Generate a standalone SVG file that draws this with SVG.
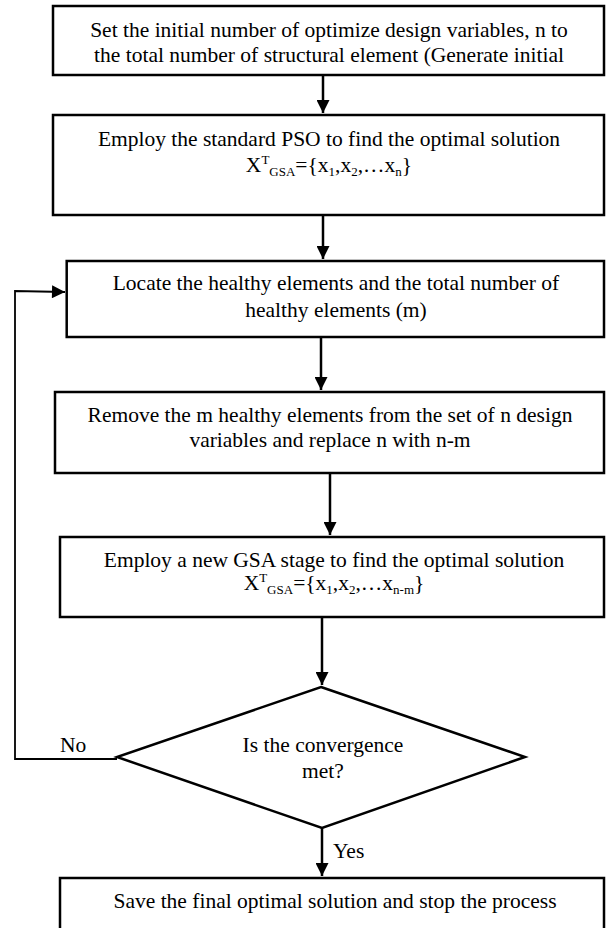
<svg xmlns="http://www.w3.org/2000/svg" width="606" height="928" viewBox="0 0 606 928" font-family="'Liberation Serif', 'Times New Roman', Times, serif">
<style>
.b{fill:#fff;stroke:#000;stroke-width:2.5}
text{font-family:'Liberation Serif','Times New Roman',Times,serif;font-size:21.5px;fill:#000}
.t{text-anchor:middle}
.s{font-size:13px}
.c{fill:none;stroke:#000;stroke-width:2.5}
.lp{fill:none;stroke:#000;stroke-width:1.8}
</style>
<defs>
<marker id="ah" viewBox="0 0 10 10" refX="10" refY="5" markerWidth="14" markerHeight="13" markerUnits="userSpaceOnUse" orient="auto">
<path d="M0,0 L10,5 L0,10 z" fill="#000"/>
</marker>
</defs>
<rect width="606" height="928" fill="#fff"/>
<g id="connectors">
<line class="c" x1="323" y1="75" x2="323" y2="113" marker-end="url(#ah)"/>
<line class="c" x1="323" y1="215" x2="323" y2="259" marker-end="url(#ah)"/>
<line class="c" x1="321" y1="337" x2="321" y2="390" marker-end="url(#ah)"/>
<line class="c" x1="330" y1="473" x2="330" y2="535" marker-end="url(#ah)"/>
<line class="c" x1="322" y1="617" x2="322" y2="685" marker-end="url(#ah)"/>
<line class="c" x1="322" y1="828" x2="322" y2="876" marker-end="url(#ah)"/>
<polyline class="lp" points="117,759 15,759 15,291 65,292" marker-end="url(#ah)"/>
<text x="60" y="752">No</text>
<text x="333" y="858">Yes</text>
</g>
<g id="n1">
<rect class="b" x="53" y="6" width="551" height="69"/>
<text class="t" x="329" y="36.7">Set the initial number of optimize design variables, n to</text>
<text class="t" x="329" y="62">the total number of structural element (Generate initial</text>
</g>
<g id="n2">
<rect class="b" x="53" y="115" width="551" height="100"/>
<text class="t" x="329" y="146">Employ the standard PSO to find the optimal solution</text>
<text class="t" x="329" y="172">X<tspan class="s" dy="-8">T</tspan><tspan class="s" dy="12">GSA</tspan><tspan dy="-4">={x</tspan><tspan class="s" dy="4">1</tspan><tspan dy="-4">,x</tspan><tspan class="s" dy="4">2</tspan><tspan dy="-4">,…x</tspan><tspan class="s" dy="4">n</tspan><tspan dy="-4">}</tspan></text>
</g>
<g id="n3">
<rect class="b" x="66.7" y="261" width="537.3" height="76"/>
<text class="t" x="336" y="290">Locate the healthy elements and the total number of</text>
<text class="t" x="336" y="317">healthy elements (m)</text>
</g>
<g id="n4">
<rect class="b" x="55" y="392" width="549" height="81"/>
<text class="t" x="330" y="421.7">Remove the m healthy elements from the set of n design</text>
<text class="t" x="330" y="446.7">variables and replace n with n-m</text>
</g>
<g id="n5">
<rect class="b" x="60" y="537" width="544" height="80"/>
<text class="t" x="334" y="566.7">Employ a new GSA stage to find the optimal solution</text>
<text class="t" x="334" y="590">X<tspan class="s" dy="-8">T</tspan><tspan class="s" dy="12">GSA</tspan><tspan dy="-4">={x</tspan><tspan class="s" dy="4">1</tspan><tspan dy="-4">,x</tspan><tspan class="s" dy="4">2</tspan><tspan dy="-4">,…x</tspan><tspan class="s" dy="4">n-m</tspan><tspan dy="-4">}</tspan></text>
</g>
<g id="n6">
<polygon class="b" points="321,687 525,757 322,828 117,757"/>
<text class="t" x="323" y="752">Is the convergence</text>
<text class="t" x="323" y="778">met?</text>
</g>
<g id="n7">
<rect class="b" x="60" y="878" width="544" height="60"/>
<text class="t" x="335" y="908">Save the final optimal solution and stop the process</text>
</g>
</svg>
